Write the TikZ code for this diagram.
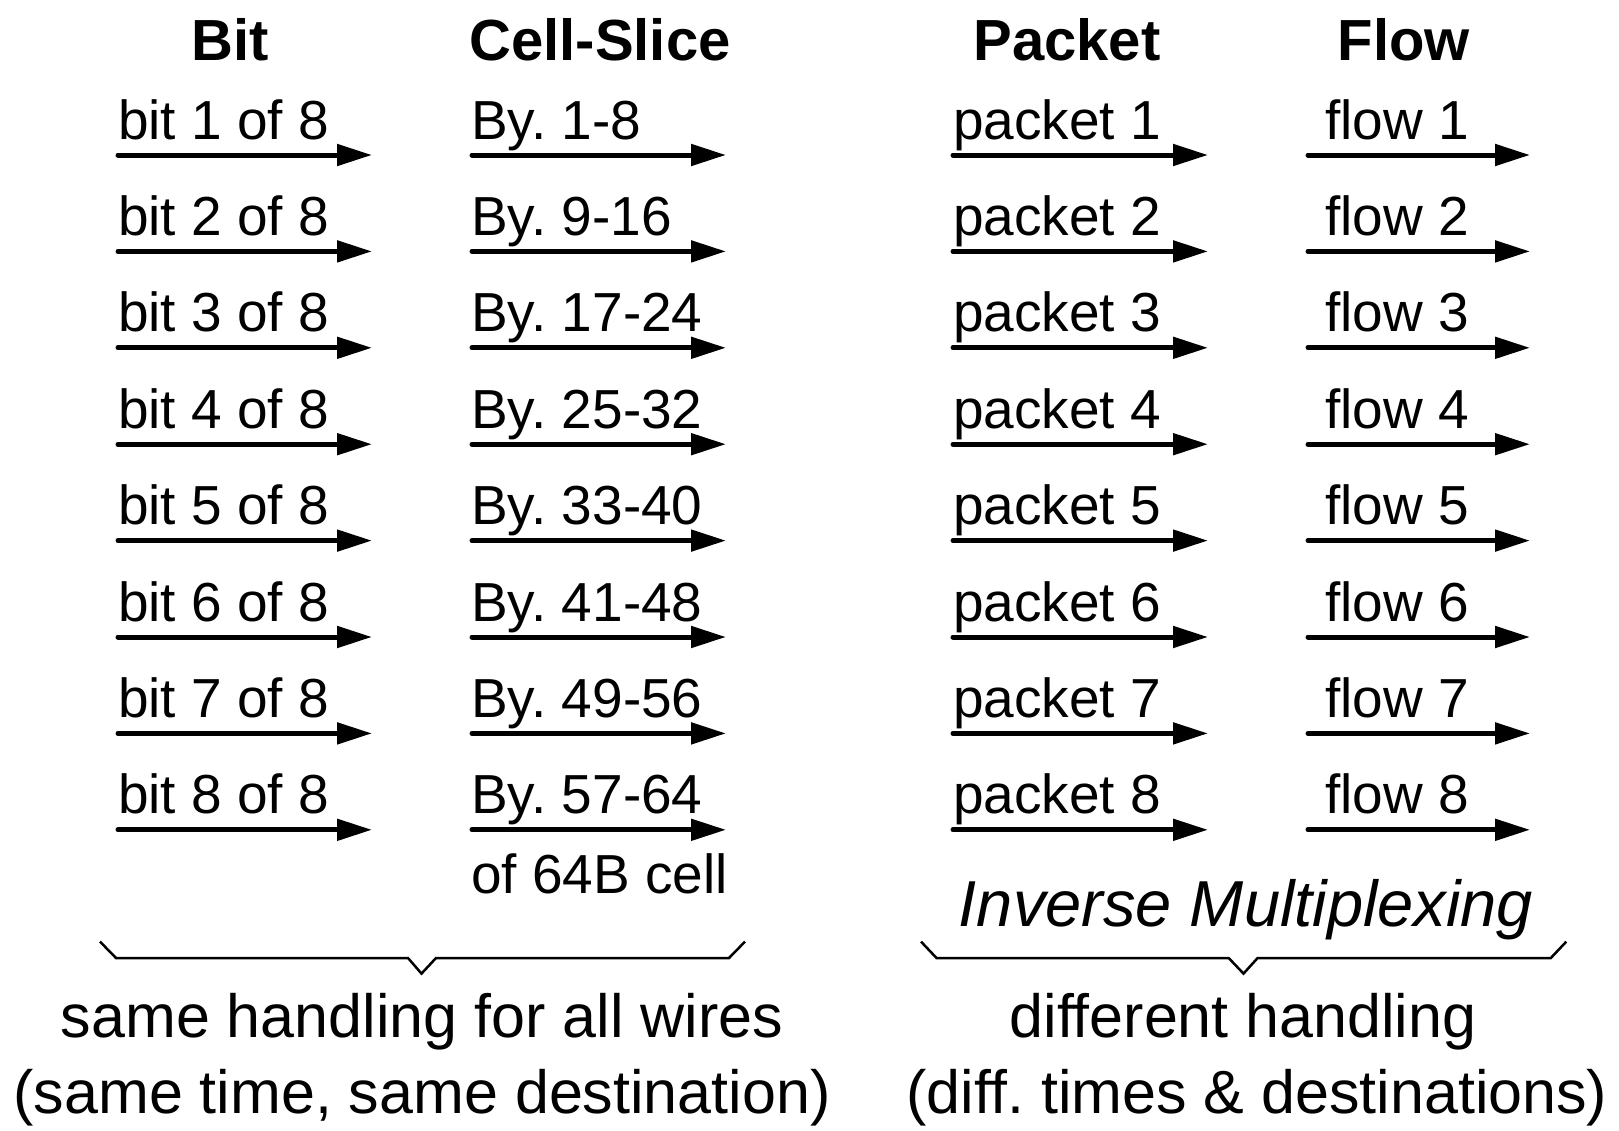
\documentclass[tikz,border=0pt]{standalone}
\usepackage{fontspec}
\setmainfont{Liberation Sans}
\usetikzlibrary{arrows.meta}
\frenchspacing
\begin{document}
\begin{tikzpicture}[x=1pt,y=-1pt,
  lbl/.style={anchor=base west,inner sep=0pt,font=\fontsize{55}{61}\selectfont},
  hdr/.style={anchor=base,inner sep=0pt,font=\fontsize{58}{64}\selectfont\bfseries},
  wire/.style={line width=5pt,line cap=round,-{Triangle[length=35pt,width=21pt]}},
  bracepath/.style={line width=2.5pt,line join=miter},
  captxt/.style={anchor=base,inner sep=0pt,font=\fontsize{61}{68}\selectfont}]
\useasboundingbox (0,0) rectangle (1619,1130);
% headers
\node[hdr] (hbit) at (230,60) {Bit};
\node[hdr] (hcell) at (600,60) {Cell-Slice};
\node[hdr] (hpkt) at (1067,60) {Packet};
\node[hdr] (hflow) at (1404,60) {Flow};
% rows
\foreach \i in {1,...,8}{
  \pgfmathsetmacro\yy{155+96.4*(\i-1)}
  \pgfmathtruncatemacro\lo{8*(\i-1)+1}
  \pgfmathtruncatemacro\hi{8*\i}
  % column 1
  \coordinate (as\i) at (118,\yy);
  \coordinate (ae\i) at (372,\yy);
  \draw[wire] (as\i) -- (ae\i);
  \node[lbl] (la\i) at (118,\yy-16) {bit \i\ of 8};
  % column 2
  \coordinate (bs\i) at (472,\yy);
  \coordinate (be\i) at (726,\yy);
  \draw[wire] (bs\i) -- (be\i);
  \node[lbl] (lb\i) at (471,\yy-16) {By. \lo-\hi};
  % column 3
  \coordinate (cs\i) at (953,\yy);
  \coordinate (ce\i) at (1208,\yy);
  \draw[wire] (cs\i) -- (ce\i);
  \node[lbl] (lc\i) at (953,\yy-16) {packet \i};
  % column 4
  \coordinate (ds\i) at (1308,\yy);
  \coordinate (de\i) at (1530,\yy);
  \draw[wire] (ds\i) -- (de\i);
  \node[lbl] (ld\i) at (1325,\yy-16) {flow \i};
}
\node[lbl] (cellnote) at (471,893) {of 64B cell};
\node[captxt,font=\fontsize{65}{72}\selectfont\itshape] (invmux) at (1246,926) {Inverse Multiplexing};
% braces
\draw[bracepath] (100,941.6) -- (116,958) -- (408,958) -- (421.5,973.6) -- (436,958) -- (729,958) -- (745,941.6);
\draw[bracepath] (921,941.6) -- (936.5,958) -- (1228.7,958) -- (1243.5,973.6) -- (1257.6,958) -- (1550.8,958) -- (1566.3,941.6);
% captions
\node[captxt] (capl1) at (422,1037) {same handling for all wires};
\node[captxt] (capl2) at (422,1113) {(same time, same destination)};
\node[captxt] (capr1) at (1243,1037) {different handling};
\node[captxt] (capr2) at (1257,1113) {(diff. times \& destinations)};
\end{tikzpicture}
\end{document}
